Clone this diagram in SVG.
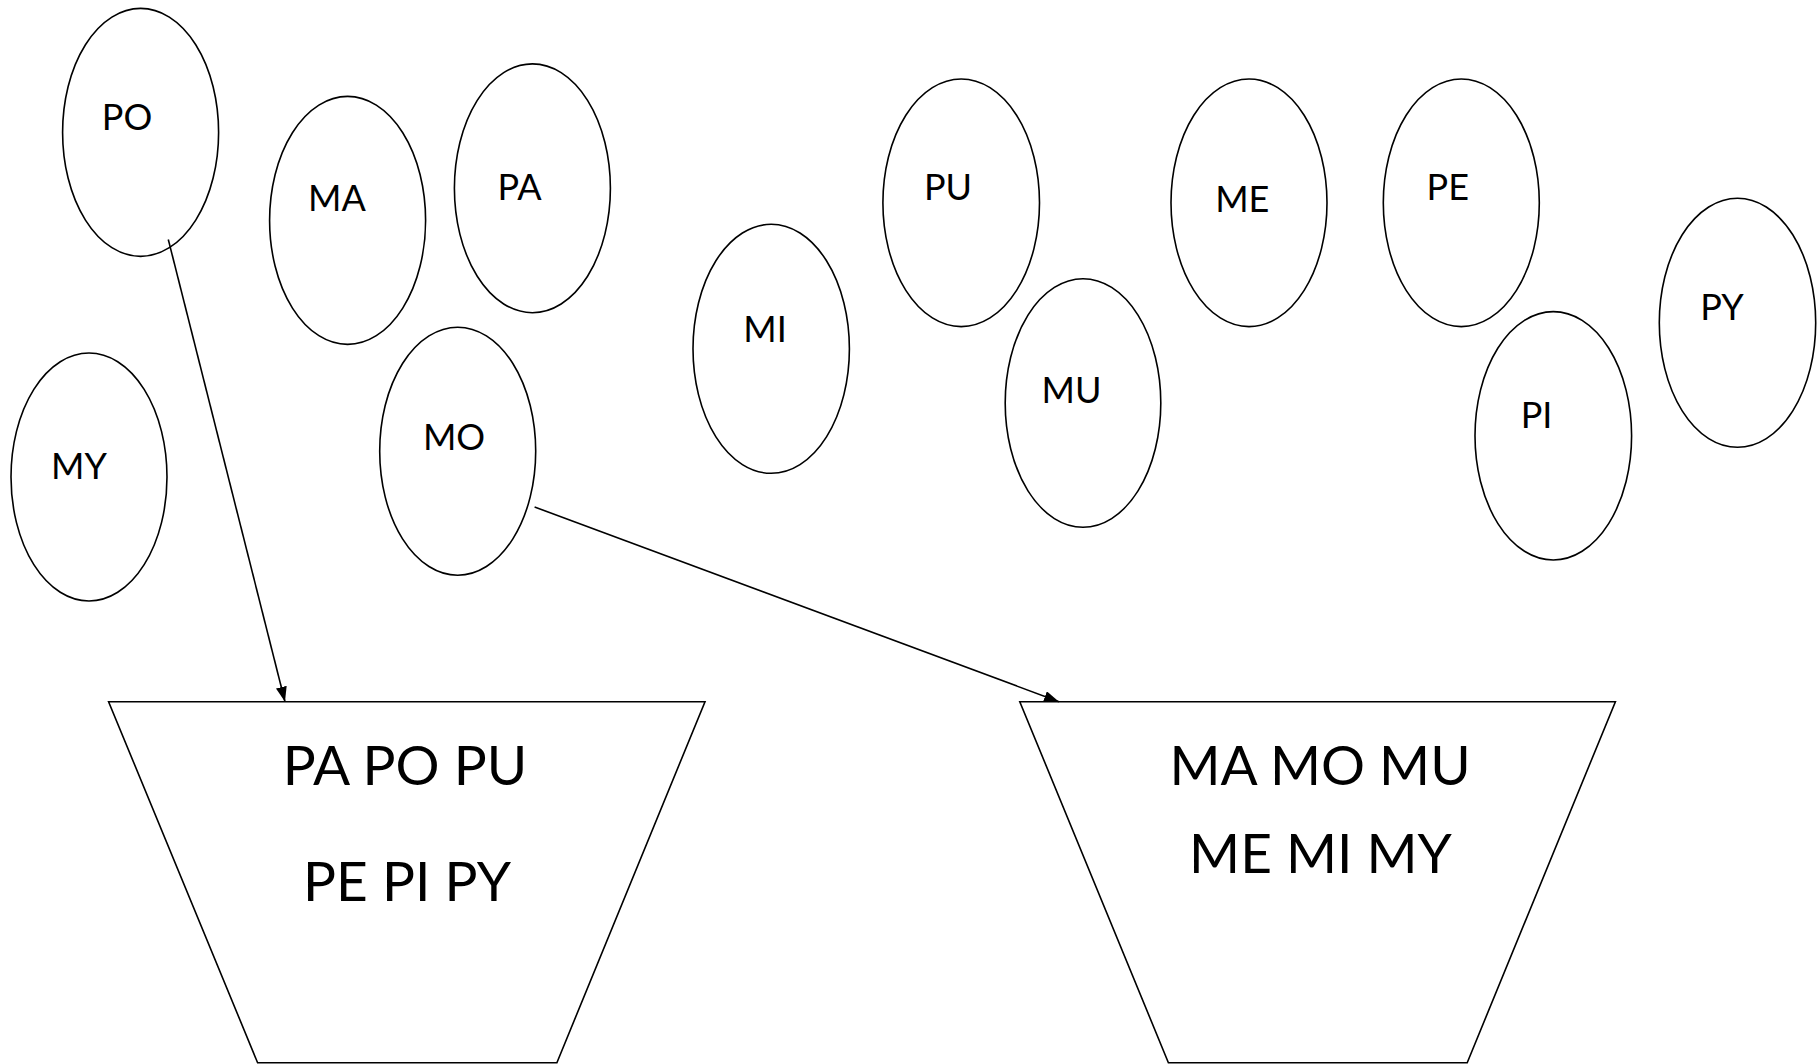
<svg xmlns="http://www.w3.org/2000/svg" width="1820" height="1064" viewBox="0 0 1820 1064">
<style>
.n{fill:#fff;stroke:#000;stroke-width:1.6}
.t{font-family:Lato,"Open Sans","Liberation Sans",sans-serif;font-size:36px;fill:#000;text-anchor:middle}
.b{font-family:Lato,"Open Sans","Liberation Sans",sans-serif;font-size:55px;fill:#000;text-anchor:middle}
.c{fill:none;stroke:#000;stroke-width:1.6}
</style>
<defs>
<marker id="arr" markerUnits="userSpaceOnUse" markerWidth="16" markerHeight="12" refX="15" refY="5.5" orient="auto">
<path d="M0,0 L15,5.5 L0,11 z" fill="#000"/>
</marker>
</defs>
<rect width="1820" height="1064" fill="#fff"/>
<g id="PO"><ellipse class="n" cx="140.6" cy="132.4" rx="78" ry="124"/><text class="t" x="127" y="130">PO</text></g>
<g id="MA"><ellipse class="n" cx="347.6" cy="220.4" rx="78" ry="124"/><text class="t" x="337" y="210.5">MA</text></g>
<g id="PA"><ellipse class="n" cx="532.4" cy="188.3" rx="78" ry="124.4"/><text class="t" x="519.5" y="200">PA</text></g>
<g id="MY"><ellipse class="n" cx="89" cy="477" rx="78" ry="124"/><text class="t" x="79" y="479">MY</text></g>
<g id="MO"><ellipse class="n" cx="457.7" cy="451.2" rx="78" ry="124"/><text class="t" x="454" y="449.7">MO</text></g>
<g id="MI"><ellipse class="n" cx="771.2" cy="348.8" rx="78.2" ry="124.5"/><text class="t" x="765" y="342.3">MI</text></g>
<g id="PU"><ellipse class="n" cx="961.2" cy="202.8" rx="78.3" ry="123.8"/><text class="t" x="948" y="200">PU</text></g>
<g id="MU"><ellipse class="n" cx="1083" cy="403" rx="77.8" ry="124.3"/><text class="t" x="1071.5" y="403.3">MU</text></g>
<g id="ME"><ellipse class="n" cx="1249" cy="202.8" rx="78" ry="123.8"/><text class="t" x="1242.3" y="211.7">ME</text></g>
<g id="PE"><ellipse class="n" cx="1461.3" cy="202.8" rx="78" ry="123.8"/><text class="t" x="1447.8" y="200">PE</text></g>
<g id="PI"><ellipse class="n" cx="1553.3" cy="435.8" rx="78.3" ry="124.2"/><text class="t" x="1536.5" y="428.3">PI</text></g>
<g id="PY"><ellipse class="n" cx="1737.5" cy="322.8" rx="78.2" ry="124.5"/><text class="t" x="1722" y="320">PY</text></g>
<g id="binP"><polygon class="n" points="108.6,701.7 705,701.7 556.9,1062.7 257.6,1062.7"/><text class="b" x="405" y="785">PA PO PU</text><text class="b" x="407" y="900.7">PE PI PY</text></g>
<g id="binM"><polygon class="n" points="1019.8,701.7 1615.4,701.7 1467.2,1062.7 1168.4,1062.7"/><text class="b" x="1320" y="785">MA MO MU</text><text class="b" x="1320.5" y="873.3">ME MI MY</text></g>
<g id="connectors">
<line class="c" x1="168.3" y1="239.5" x2="285" y2="701.7" marker-end="url(#arr)"/>
<line class="c" x1="534.6" y1="507" x2="1059" y2="701.7" marker-end="url(#arr)"/>
</g>
</svg>
